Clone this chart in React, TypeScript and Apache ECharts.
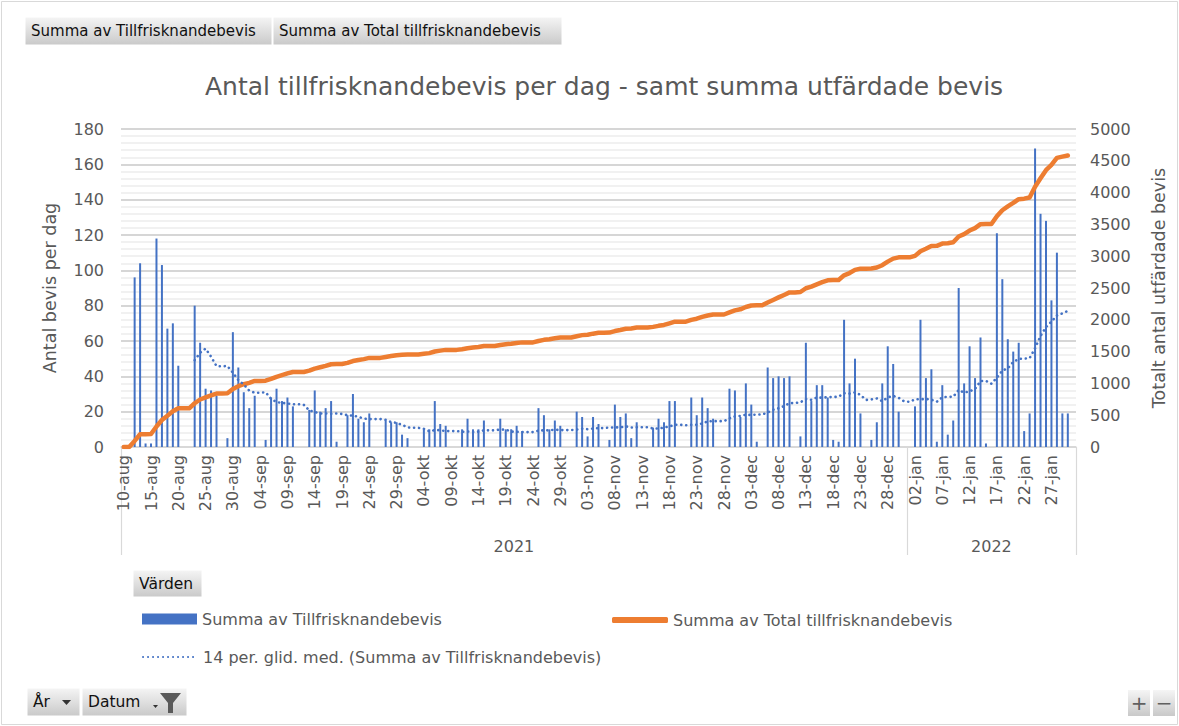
import React, { useEffect, useRef } from "react";
import * as echarts from "echarts";

// ---------- data ----------
const MONTHS = ["jan", "feb", "mar", "apr", "maj", "jun", "jul", "aug", "sep", "okt", "nov", "dec"];
const START_YEAR = 2021;
const START_MONTH = 7; // august (0-based)
const START_DAY = 10;
const DAY_COUNT = 175; // 10-aug-2021 .. 31-jan-2022

// daily number of certificates (Summa av Tillfrisknandebevis), index 0 = 10-aug-2021
const daily: (number | null)[] = [
  0, 0, 96, 104, 2, 2, 118, 103, 67, 70, 46, 0, 0, 80, 59, 33, 32, 29, 0, 5,
  65, 45, 31, 22, 29, 0, 4, 28, 33, 26, 28, 23, 0, 0, 21, 32, 20, 22, 26, 3,
  0, 18, 30, 16, 14, 19, 0, 0, 15, 14, 14, 7, 5, 0, 0, 10, 10, 26, 13, 12,
  0, 0, 10, 16, 10, 10, 15, 0, 0, 16, 10, 10, 12, 9, 0, 0, 22, 18, 10, 15,
  12, 0, 0, 20, 17, 6, 17, 13, 0, 4, 24, 17, 19, 5, 14, 0, 0, 11, 16, 14,
  26, 26, 0, 0, 28, 18, 28, 22, 16, 0, 0, 33, 32, 17, 36, 24, 3, 0, 45, 39,
  40, 39, 40, 0, 6, 59, 26, 35, 35, 28, 4, 3, 72, 36, 50, 19, 0, 4, 14, 36,
  57, 47, 20, 0, 0, 23, 72, 39, 44, 3, 35, 7, 15, 90, 36, 57, 39, 62, 2, 0,
  121, 95, 61, 54, 59, 9, 19, 169, 132, 128, 83, 110, 19, 19, null,
];

const leftTicks = { min: 0, max: 180, interval: 20 };
const rightTicks = { min: 0, max: 5000, interval: 500 };
const MA_PERIOD = 14;

const S_BAR = "Summa av Tillfrisknandebevis";
const S_TOTAL = "Summa av Total tillfrisknandebevis";
const S_MA = "14 per. glid. med. (Summa av Tillfrisknandebevis)";
const TITLE = "Antal tillfrisknandebevis per dag - samt summa utfärdade bevis";
const LEFT_NAME = "Antal bevis per dag";
const RIGHT_NAME = "Totalt antal utfärdade bevis";

// ---------- derived tables ----------
const categories: string[] = [];
const years: number[] = [];
for (let i = 0; i < DAY_COUNT; i++) {
  const dt = new Date(Date.UTC(START_YEAR, START_MONTH, START_DAY + i));
  categories.push(String(dt.getUTCDate()).padStart(2, "0") + "-" + MONTHS[dt.getUTCMonth()]);
  years.push(dt.getUTCFullYear());
}

const cumulative: (number | null)[] = [];
{
  let run = 0;
  for (const v of daily) {
    if (v === null) cumulative.push(null);
    else {
      run += v;
      cumulative.push(run);
    }
  }
}

const movingAvg: (number | null)[] = daily.map((v, i) => {
  if (v === null || i < MA_PERIOD - 1) return null;
  let s = 0;
  for (let k = i - MA_PERIOD + 1; k <= i; k++) s += daily[k] ?? 0;
  return +(s / MA_PERIOD).toFixed(2);
});

// ---------- style ----------
const FONT = "DejaVu Sans";
const TXT = "#595959";
const BLUE = "#4472C4";
const ORANGE = "#ED7D31";

const btnFill = {
  type: "linear",
  x: 0,
  y: 0,
  x2: 0,
  y2: 1,
  colorStops: [
    { offset: 0, color: "#f5f5f5" },
    { offset: 1, color: "#c9c9c9" },
  ],
};

function button(x: number, y: number, w: number, h: number, label: string, size = 15) {
  return [
    { type: "rect", shape: { x, y, width: w, height: h }, style: { fill: btnFill as any, stroke: "#ffffff", lineWidth: 1 } },
    {
      type: "text",
      x: x + 6,
      y: y + h / 2,
      style: { text: label, font: `${size}px "${FONT}"`, fill: "#111111", textVerticalAlign: "middle" },
    },
  ];
}

const legendText = { fontFamily: FONT, fontSize: 16, color: TXT };

export default function App() {
  const ref = useRef<HTMLDivElement>(null);

  useEffect(() => {
    document.body.style.margin = "0";
    if (!ref.current) return;
    const chart = echarts.init(ref.current, undefined, { renderer: "svg" });

    const option: any = {
      animation: false,
      backgroundColor: "#ffffff",
      title: {
        text: TITLE,
        left: 205,
        top: 74,
        padding: 0,
        textStyle: { fontFamily: FONT, fontSize: 25, fontWeight: "normal", color: TXT },
      },
      grid: { left: 121, right: 103, top: 129, height: 318, containLabel: false },
      xAxis: [
        {
          type: "category",
          data: categories,
          boundaryGap: true,
          axisLine: { show: true, lineStyle: { color: "#d9d9d9", width: 1.5 } },
          axisTick: { show: false },
          axisLabel: { interval: 4, rotate: 90, fontFamily: FONT, fontSize: 16, color: TXT, margin: 8 },
          splitLine: { show: false },
        },
      ],
      yAxis: [
        {
          type: "value",
          min: leftTicks.min,
          max: leftTicks.max,
          interval: leftTicks.interval,
          position: "left",
          name: LEFT_NAME,
          nameLocation: "middle",
          nameRotate: 90,
          nameGap: 62,
          nameTextStyle: { fontFamily: FONT, fontSize: 17.5, color: TXT },
          axisLine: { show: false },
          axisTick: { show: false },
          axisLabel: { fontFamily: FONT, fontSize: 16, color: TXT, margin: 17, formatter: (v: number) => String(v) },
          splitLine: { show: true, lineStyle: { color: "#d6d6d6", width: 2 } },
          minorTick: { show: false, splitNumber: 5 },
          minorSplitLine: { show: true, lineStyle: { color: "#ededed", width: 1.5 } },
        },
        {
          type: "value",
          min: rightTicks.min,
          max: rightTicks.max,
          interval: rightTicks.interval,
          position: "right",
          name: RIGHT_NAME,
          nameLocation: "middle",
          nameRotate: 90,
          nameGap: 74,
          nameTextStyle: { fontFamily: FONT, fontSize: 17.5, color: TXT },
          axisLine: { show: false },
          axisTick: { show: false },
          axisLabel: { fontFamily: FONT, fontSize: 16, color: TXT, margin: 14, formatter: (v: number) => String(v) },
          splitLine: { show: false },
        },
      ],
      legend: [
        {
          data: [{ name: S_BAR, icon: "rect" }],
          left: 137,
          top: 606,
          itemWidth: 55,
          itemHeight: 11,
          selectedMode: false,
          textStyle: legendText,
        },
        {
          data: [{ name: S_TOTAL, icon: "roundRect" }],
          left: 607,
          top: 607,
          itemWidth: 56,
          itemHeight: 6,
          selectedMode: false,
          itemStyle: { color: ORANGE, borderRadius: 3 },
          textStyle: legendText,
        },
        {
          data: [{ name: S_MA }],
          left: 137,
          top: 644,
          itemWidth: 55,
          itemHeight: 16,
          selectedMode: false,
          itemStyle: { opacity: 0 },
          textStyle: legendText,
        },
      ],
      series: [
        {
          name: S_BAR,
          type: "bar",
          data: daily,
          xAxisIndex: 0,
          yAxisIndex: 0,
          barWidth: 2,
          itemStyle: { color: BLUE },
        },
        {
          name: S_TOTAL,
          type: "line",
          data: cumulative,
          yAxisIndex: 1,
          symbol: "none",
          lineStyle: { color: ORANGE, width: 4.5, cap: "round", join: "round" },
          itemStyle: { color: ORANGE },
          z: 3,
        },
        {
          name: S_MA,
          type: "line",
          data: movingAvg,
          yAxisIndex: 0,
          symbol: "none",
          lineStyle: { color: BLUE, width: 2.6, type: [0.1, 4.9], cap: "round" },
          itemStyle: { color: BLUE },
          z: 4,
        },
      ],
    };

    chart.setOption(option);

    // positions of the year grouping taken from the axes themselves
    const c0 = chart.convertToPixel({ xAxisIndex: 0 }, categories[0]) as number;
    const c1 = chart.convertToPixel({ xAxisIndex: 0 }, categories[1]) as number;
    const bw = c1 - c0;
    const edge = (i: number) => c0 - bw / 2 + i * bw;
    const y0 = chart.convertToPixel({ yAxisIndex: 0 }, 0) as number;
    const bounds: number[] = [0];
    for (let i = 1; i < DAY_COUNT; i++) if (years[i] !== years[i - 1]) bounds.push(i);
    bounds.push(DAY_COUNT);

    const groupEls: any[] = [];
    bounds.forEach((b) => {
      const x = Math.round(edge(b)) + 0.5;
      groupEls.push({ type: "line", shape: { x1: x, y1: y0, x2: x, y2: y0 + 108 }, style: { stroke: "#d9d9d9", lineWidth: 1.2 } });
    });
    for (let k = 0; k < bounds.length - 1; k++) {
      const mid = (edge(bounds[k]) + edge(bounds[k + 1])) / 2;
      groupEls.push({
        type: "text",
        x: mid,
        y: y0 + 99,
        style: { text: String(years[bounds[k]]), font: `16px "${FONT}"`, fill: TXT, textAlign: "center", textVerticalAlign: "middle" },
      });
    }

    const elements: any[] = [
      { type: "rect", shape: { x: 1.5, y: 1.5, width: 1176, height: 723 }, style: { fill: "none", stroke: "#d9d9d9", lineWidth: 1 }, silent: true },
      ...button(25, 17, 247, 28, S_BAR),
      ...button(273, 17, 289, 28, S_TOTAL),
      ...button(133, 570, 69, 27, "Värden", 15.5),
      ...button(27, 688, 53, 28, "År", 15.5),
      { type: "polygon", shape: { points: [[62, 700], [71, 700], [66.5, 705]] }, style: { fill: "#333333" } },
      ...button(82, 688, 105, 28, "Datum", 15.5),
      { type: "polygon", shape: { points: [[153, 705], [158, 705], [155.5, 708]] }, style: { fill: "#333333" } },
      {
        type: "polygon",
        shape: { points: [[160, 693], [181, 693], [173, 703], [173, 713], [168, 713], [168, 703]] },
        style: { fill: "#5a5a5a" },
      },
      { type: "rect", shape: { x: 1128, y: 690, width: 22, height: 26 }, style: { fill: btnFill as any } },
      { type: "text", x: 1139, y: 703, style: { text: "+", font: `20px "${FONT}"`, fill: "#606060", textAlign: "center", textVerticalAlign: "middle" } },
      { type: "rect", shape: { x: 1153, y: 690, width: 22, height: 26 }, style: { fill: btnFill as any } },
      { type: "text", x: 1164, y: 703, style: { text: "−", font: `20px "${FONT}"`, fill: "#606060", textAlign: "center", textVerticalAlign: "middle" } },
      ...groupEls,
    ];

    chart.setOption({ graphic: [{ elements }] });

    return () => chart.dispose();
  }, []);

  return <div ref={ref} style={{ width: 1179, height: 726 }} />;
}
